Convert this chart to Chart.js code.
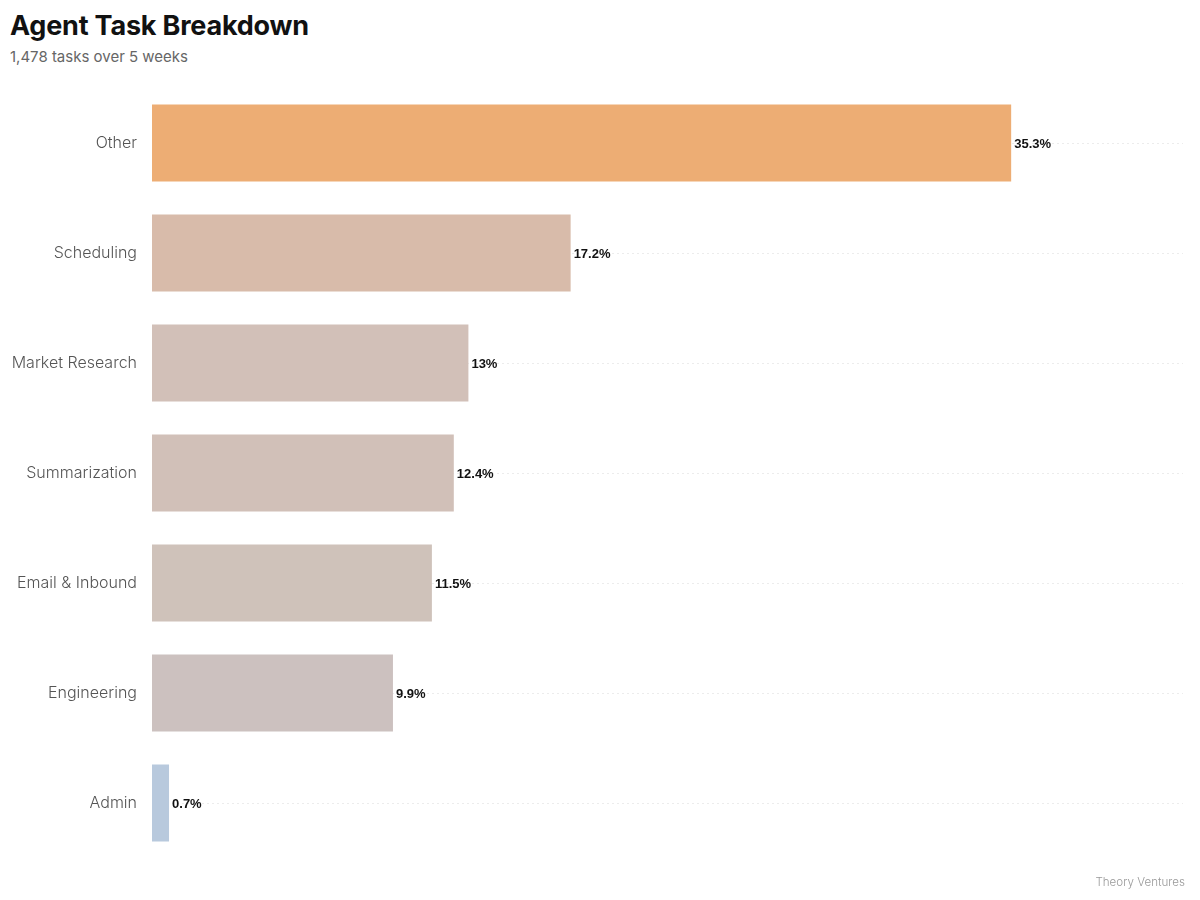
<!DOCTYPE html>
<html>
<head>
<meta charset="utf-8">
<title>Agent Task Breakdown</title>
<script src="https://cdn.jsdelivr.net/npm/chart.js@4/dist/chart.umd.min.js"></script>
<style>
    html, body { margin: 0; padding: 0; background: #fff; }
    #wrap { position: relative; width: 1200px; height: 900px; }
    #title {
        position: absolute; left: 10px; top: 9px;
        font: 700 27px Inter, sans-serif; color: #111; letter-spacing: -0.2px;
    }
    #subtitle {
        position: absolute; left: 10px; top: 47px;
        font: 400 15px Inter, sans-serif; color: #666;
    }
    #footer {
        position: absolute; right: 15px; top: 875px;
        font: 300 11.6px Inter, sans-serif; color: #999;
    }
    canvas { position: absolute; left: 0; top: 0; }
</style>
</head>
<body>
<div id="wrap">
    <div id="title">Agent Task Breakdown</div>
    <div id="subtitle">1,478 tasks over 5 weeks</div>
    <canvas id="chart" width="1200" height="900"></canvas>
    <div id="footer">Theory Ventures</div>
</div>
<script>
// task categories, share of tasks (%)
const categories = ['Other', 'Scheduling', 'Market Research', 'Summarization', 'Email & Inbound', 'Engineering', 'Admin']
const shares = [35.3, 17.2, 13, 12.4, 11.5, 9.9, 0.7]
const barColors = ['#edad74', '#d8bbaa', '#d2c0b8', '#d1c0b8', '#cfc2ba', '#ccc1bf', '#b8c9dd']

// value labels at the end of each bar
const valueLabels = {
    id: 'valueLabels',
    afterDatasetsDraw(chart) {
        const ctx = chart.ctx
        const meta = chart.getDatasetMeta(0)
        ctx.save()
        ctx.font = 'bold 13px "Liberation Sans", Arial, sans-serif'
        ctx.fillStyle = '#111'
        ctx.textAlign = 'left'
        ctx.textBaseline = 'middle'
        meta.data.forEach((bar, i) => {
            ctx.fillText(shares[i] + '%', bar.x + 3, bar.y + 1)
        })
        ctx.restore()
    },
}

new Chart(document.getElementById('chart'), {
    type: 'bar',
    data: {
        labels: categories,
        datasets: [{
            data: shares,
            backgroundColor: barColors,
            borderWidth: 0,
            categoryPercentage: 0.7,
            barPercentage: 1,
        }],
    },
    options: {
        indexAxis: 'y',
        responsive: false,
        animation: false,
        layout: { padding: { left: 0, top: 88, right: 17, bottom: 42 } },
        plugins: {
            legend: { display: false },
            tooltip: { enabled: false },
        },
        scales: {
            x: {
                display: false,
                min: 0,
                max: Math.max(...shares) * 1.2,
            },
            y: {
                grid: {
                    offset: false,
                    color: '#ececec',
                    lineWidth: 1,
                    drawTicks: false,
                },
                border: { display: false, dash: [2, 3] },
                ticks: {
                    padding: 15,
                    color: '#555',
                    font: { family: 'Inter', size: 16, weight: 300 },
                },
                afterFit: scale => { scale.width = 152 },
            },
        },
    },
    plugins: [valueLabels],
})
</script>
</body>
</html>
